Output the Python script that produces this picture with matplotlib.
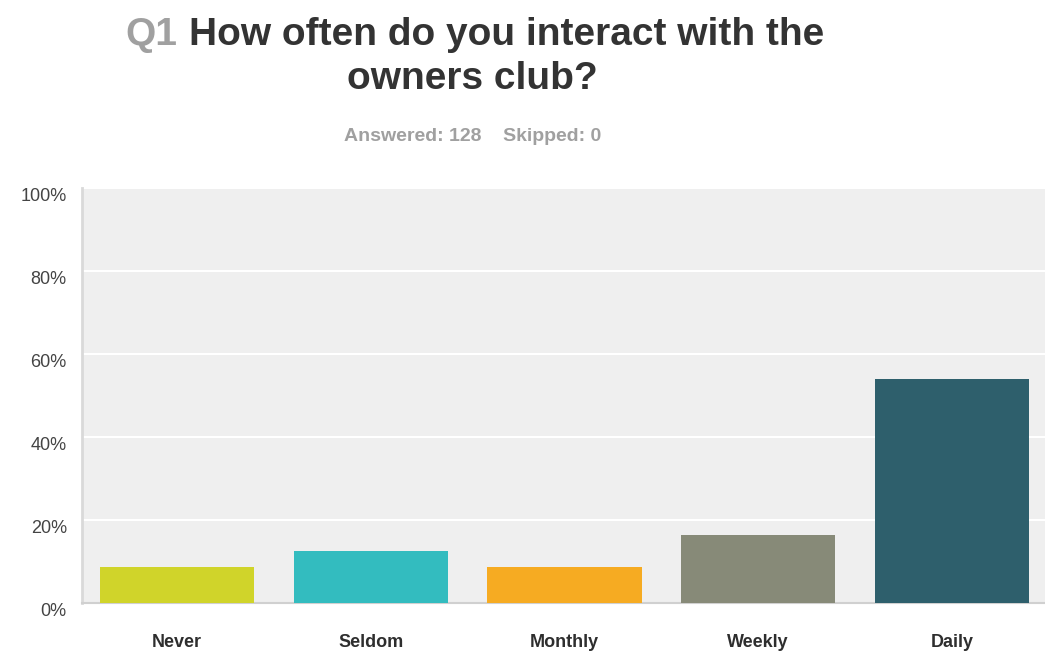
import matplotlib
matplotlib.use('Agg')
import matplotlib.pyplot as plt
from matplotlib.ticker import FuncFormatter

categories = ['Never', 'Seldom', 'Monthly', 'Weekly', 'Daily']
percents = [8.59, 12.50, 8.59, 16.41, 53.91]
colors = ['#d0d42a', '#33bcbf', '#f6ab22', '#878a78', '#2e5f6c']
yticks = [0, 20, 40, 60, 80, 100]

narrow = ['Liberation Sans Narrow', 'Liberation Sans', 'DejaVu Sans']

fig = plt.figure(figsize=(10.45, 6.55), dpi=100)
ax = fig.add_axes([0.0785, 0.0794, 0.9215, 0.634])
ax.set_facecolor('#efefef')

x = range(len(categories))
ax.bar(x, percents, width=0.795, color=colors, zorder=3)

ax.set_ylim(0, 100)
ax.set_xlim(-0.49, 4.48)
ax.set_yticks(yticks)
ax.yaxis.set_major_formatter(FuncFormatter(lambda v, p: '%d%%' % v))
ax.grid(axis='y', color='white', linewidth=1.5, zorder=1)
ax.set_xticks(list(x))
ax.set_xticklabels(categories, fontsize=13, fontweight='bold', color='#2e2e2e',
                   family=['Liberation Sans', 'DejaVu Sans'])
ax.tick_params(axis='both', length=0)
ax.tick_params(axis='x', pad=22)
ax.tick_params(axis='y', pad=11)

for s in ['top', 'right']:
    ax.spines[s].set_visible(False)
ax.spines['left'].set_color('#d9d9d9')
ax.spines['left'].set_linewidth(2)
ax.spines['bottom'].set_color('#d0d0d0')
ax.spines['bottom'].set_linewidth(1.5)

# y labels hang just under their gridlines in the original
for lbl in ax.get_yticklabels():
    lbl.set_fontsize(13)
    lbl.set_color('#444444')
    lbl.set_family(['Liberation Sans', 'DejaVu Sans'])
    lbl.set_va('top')

# title
fig.text(0.12, 0.947, 'Q1', fontsize=28, fontweight='bold', color='#a0a0a0',
         family=narrow, ha='left', va='center')
fig.text(0.181, 0.947, 'How often do you interact with the', fontsize=28,
         fontweight='bold', color='#333333', family=narrow, ha='left', va='center')
fig.text(0.452, 0.879, 'owners club?', fontsize=28, fontweight='bold',
         color='#333333', family=narrow, ha='center', va='center')
fig.text(0.452, 0.791, 'Answered: 128    Skipped: 0', fontsize=14, fontweight='bold',
         color='#a0a0a0', family=narrow, ha='center', va='center')

plt.savefig('out.png', dpi=100)
